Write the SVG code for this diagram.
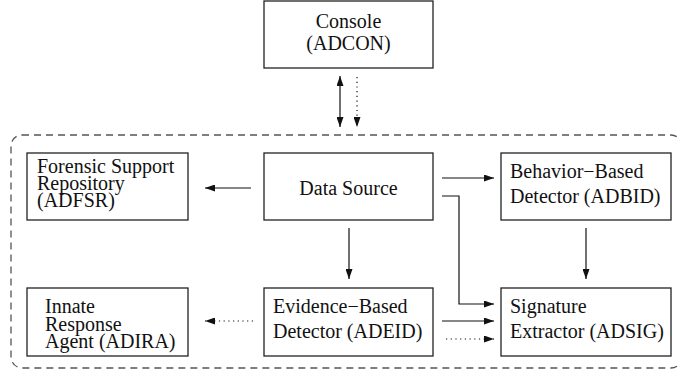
<svg xmlns="http://www.w3.org/2000/svg" width="680" height="376" viewBox="0 0 680 376">
<style>
.box{fill:#fff;stroke:#222;stroke-width:1.3}
.t{font-family:'Liberation Serif','Times New Roman',Times,'DejaVu Serif',serif;font-size:20px;fill:#111}
.c{text-anchor:middle}
.ln{fill:none;stroke:#111;stroke-width:1.2}
.dot{fill:none;stroke:#111;stroke-width:1.2;stroke-dasharray:1.2 3.5}
.cont{fill:none;stroke:#555;stroke-width:1.3;stroke-dasharray:7 5}
</style>
<defs>
<marker id="ah" viewBox="0 0 10 7" refX="10" refY="3.5" markerWidth="10" markerHeight="7" markerUnits="userSpaceOnUse" orient="auto-start-reverse">
<path d="M0,0 L10,3.5 L0,7 z" fill="#111"/>
</marker>
</defs>
<rect id="container" class="cont" x="11" y="135" width="671" height="233" rx="11"/>
<g id="console"><rect class="box" x="264" y="1" width="169" height="67"/>
<text class="t c" x="348.5" y="28">Console</text><text class="t c" x="348.5" y="50">(ADCON)</text></g>
<g id="datasource"><rect class="box" x="264" y="153" width="169" height="67"/>
<text class="t c" x="348.5" y="195">Data Source</text></g>
<g id="adfsr"><rect class="box" x="27" y="153" width="161" height="67"/>
<text class="t" x="37" y="173">Forensic Support</text><text class="t" x="37" y="190">Repository</text><text class="t" x="37" y="207">(ADFSR)</text></g>
<g id="adbid"><rect class="box" x="501" y="153" width="170" height="67"/>
<text class="t" x="510" y="178">Behavior−Based</text><text class="t" x="510" y="203">Detector (ADBID)</text></g>
<g id="adira"><rect class="box" x="27" y="288" width="161" height="68"/>
<text class="t" x="45" y="313">Innate</text><text class="t" x="45" y="330.5">Response</text><text class="t" x="45" y="348">Agent (ADIRA)</text></g>
<g id="adeid"><rect class="box" x="264" y="288" width="169" height="68"/>
<text class="t" x="273" y="313">Evidence−Based</text><text class="t" x="273" y="338">Detector (ADEID)</text></g>
<g id="adsig"><rect class="box" x="501" y="288" width="170" height="68"/>
<text class="t" x="510" y="313">Signature</text><text class="t" x="510" y="338">Extractor (ADSIG)</text></g>
<g id="connectors">
<line class="ln" x1="340" y1="76" x2="340" y2="127" marker-start="url(#ah)" marker-end="url(#ah)"/>
<line class="dot" x1="357" y1="77" x2="357" y2="127" marker-end="url(#ah)"/>
<line class="ln" x1="251" y1="188" x2="205" y2="188" marker-end="url(#ah)"/>
<line class="ln" x1="442" y1="178" x2="494" y2="178" marker-end="url(#ah)"/>
<polyline class="ln" points="442,196 459,196 459,304 494,304" marker-end="url(#ah)"/>
<line class="ln" x1="349" y1="228" x2="349" y2="279" marker-end="url(#ah)"/>
<line class="ln" x1="586" y1="228" x2="586" y2="279" marker-end="url(#ah)"/>
<line class="ln" x1="442" y1="321" x2="494" y2="321" marker-end="url(#ah)"/>
<line class="dot" x1="446" y1="339" x2="494" y2="339" marker-end="url(#ah)"/>
<line class="dot" x1="253" y1="321" x2="205" y2="321" marker-end="url(#ah)"/>
</g>
</svg>
